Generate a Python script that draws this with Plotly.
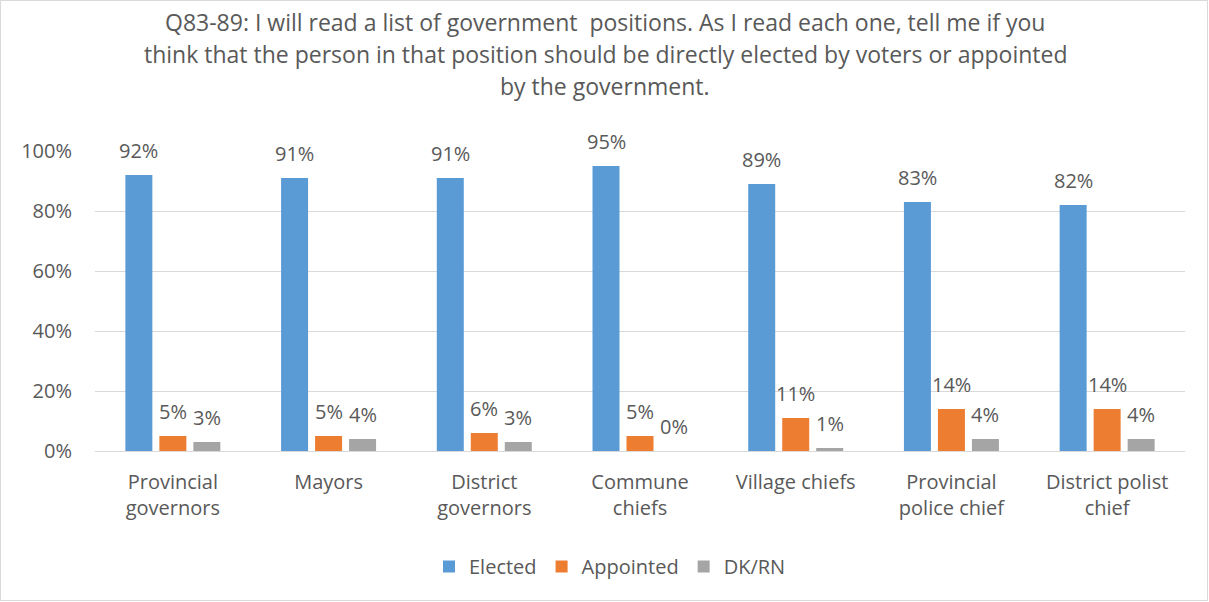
import plotly.graph_objects as go

categories = ["Provincial<br>governors", "Mayors", "District<br>governors", "Commune<br>chiefs",
              "Village chiefs", "Provincial<br>police chief", "District polist<br>chief"]
series_names = ["Elected", "Appointed", "DK/RN"]
elected = [92, 91, 91, 95, 89, 83, 82]
appointed = [5, 5, 6, 5, 11, 14, 14]
dkrn = [3, 4, 3, 0, 1, 4, 4]
title_lines = [
    "Q83-89: I will read a list of government  positions. As I read each one, tell me if you",
    "think that the person in that position should be directly elected by voters or appointed",
    "by the government.",
]
tick_vals = [0, 20, 40, 60, 80, 100]
tick_text = ["0%", "20%", "40%", "60%", "80%", "100%"]

colors = ["#5B9BD5", "#ED7D31", "#A5A5A5"]
FONT = "Open Sans"
TXT = "#595959"

W, H = 1209, 602
ML, MR, MT, MB = 95, 24, 151, 151
PW, PH = W - ML - MR, H - MT - MB

fig = go.Figure()
all_series = [elected, appointed, dkrn]
for name, vals, col in zip(series_names, all_series, colors):
    fig.add_trace(go.Bar(name=name, x=list(range(len(categories))), y=vals,
                         marker=dict(color=col, line=dict(width=0)), hoverinfo="none"))

annotations = []
offsets = [-0.218, 0.0, 0.218]
for vals, off in zip(all_series, offsets):
    for i, v in enumerate(vals):
        annotations.append(dict(x=i + off, y=v, xref="x", yref="y", text=f"{v}%",
                                showarrow=False, yanchor="middle", yshift=25,
                                font=dict(family=FONT, size=20, color=TXT)))
for k, line in enumerate(title_lines):
    annotations.append(dict(x=(605 - ML) / PW, y=(H - MB - (22 + 32 * k)) / PH,
                            xref="paper", yref="paper", text=line,
                            showarrow=False, xanchor="center", yanchor="middle",
                            font=dict(family=FONT, size=23, color=TXT)))

fig.update_layout(
    width=W, height=H,
    margin=dict(l=ML, r=MR, t=MT, b=MB),
    paper_bgcolor="white", plot_bgcolor="white",
    barmode="group", bargap=0.345, bargroupgap=0.206,
    font=dict(family=FONT, size=20, color=TXT),
    showlegend=True,
    legend=dict(orientation="h", x=0.5 - 30 / PW, xanchor="center", y=-0.32, yanchor="top",
                font=dict(family=FONT, size=20, color=TXT), itemwidth=30,
                traceorder="normal"),
    xaxis=dict(tickmode="array", tickvals=list(range(len(categories))), ticktext=categories,
               range=[-0.5, len(categories) - 0.5], showgrid=False, showline=True,
               linecolor="#D9D9D9", linewidth=1, ticks="", tickfont=dict(size=20, color=TXT),
               ticklabelstandoff=13, zeroline=False),
    yaxis=dict(range=[0, 100], tickvals=tick_vals, ticktext=tick_text, showgrid=True,
               gridcolor="#D9D9D9", gridwidth=1, zeroline=False, ticks="",
               ticklabelstandoff=22, tickfont=dict(size=20, color=TXT)),
    annotations=annotations,
    shapes=[dict(type="rect", xref="paper", yref="paper",
                 x0=(0.5 - ML) / PW, x1=(W - 1.5 - ML) / PW,
                 y0=(H - MB - (H - 1.5)) / PH, y1=(H - MB - 0.5) / PH,
                 line=dict(color="#D9D9D9", width=1), fillcolor="rgba(0,0,0,0)", layer="below")],
)
fig.write_html("out.html", config={"displayModeBar": False},
               post_script="document.body.style.margin='0px';document.body.style.padding='0px';")
